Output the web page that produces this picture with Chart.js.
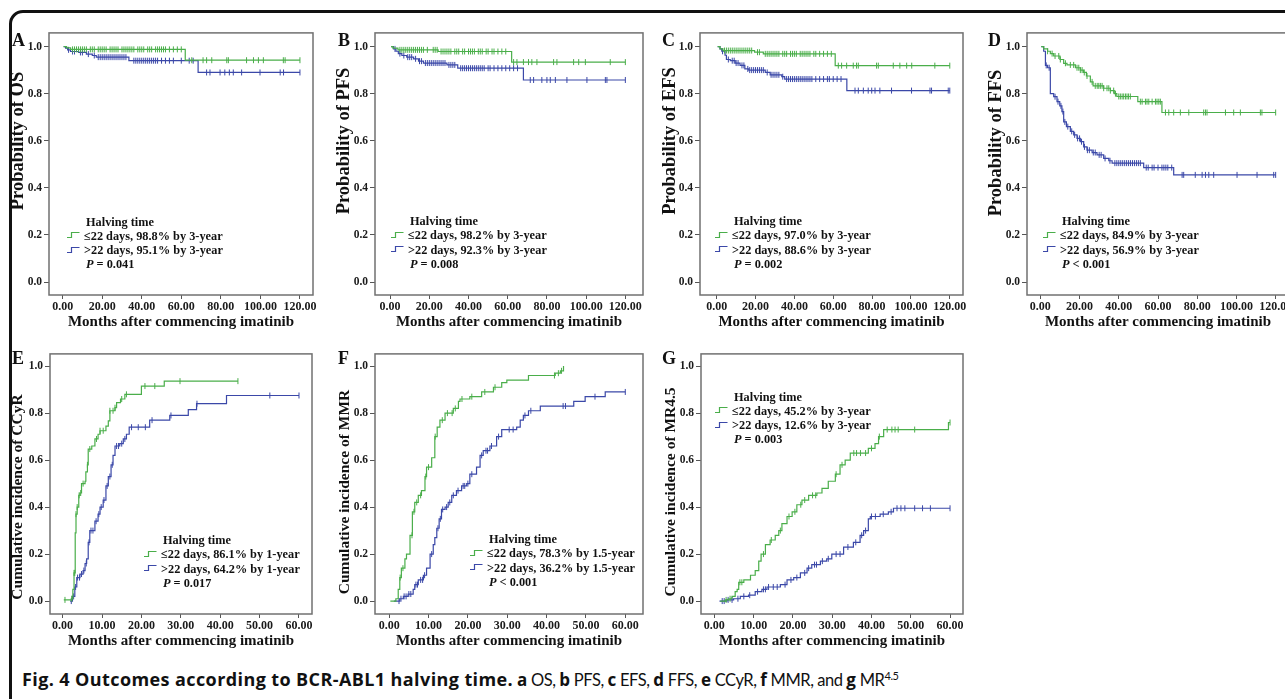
<!DOCTYPE html>
<html>
<head>
<meta charset="utf-8">
<script src="https://cdn.jsdelivr.net/npm/chart.js@4.4.1/dist/chart.umd.min.js"></script>
<style>
  html, body { margin: 0; padding: 0; background: #fff; }
  #page { position: relative; width: 1285px; height: 699px; overflow: hidden; background: #fff; }
  #frame { position: absolute; left: 9px; top: 10px; width: 1300px; height: 710px; border: 3px solid #111; border-radius: 14px; box-sizing: border-box; }
  canvas { position: absolute; }
  .leg { position: absolute; font: bold 12.3px "Liberation Serif", "Times New Roman", serif; color: #111; line-height: 14.3px; white-space: nowrap; }
  .leg .ttl { padding-left: 19px; }
  .leg svg { display: inline-block; vertical-align: middle; margin: -3px 4px 0 0; }
  .leg .p { padding-left: 19px; }
  .letter { position: absolute; font: bold 18px "Liberation Serif", "Times New Roman", serif; line-height: 18px; color: #111; }
  .ytitle { position: absolute; font-family: "Liberation Serif", "Times New Roman", serif; font-weight: bold; line-height: 1; color: #111; white-space: nowrap; transform: translate(-50%, -50%) rotate(-90deg); }
  #caption { position: absolute; left: 22px; top: 668px; font: 18px "Open Sans", sans-serif; line-height: 22px; color: #111; white-space: nowrap; }
  #caption b { font-weight: bold; }
  #caption .ttl { letter-spacing: 0.4px; }
  #caption .rest { font: 16.5px Lato, sans-serif; letter-spacing: -0.45px; }
  #caption .rest b { font-family: "Open Sans", sans-serif; font-size: 17px; letter-spacing: 0; }
  #caption sup { font-size: 11px; line-height: 0; }
</style>
</head>
<body>
<div id="page">
  <div id="frame"></div>
  <div id="caption"><b class="ttl">Fig. 4 Outcomes according to BCR-ABL1 halving time.</b><span class="rest"> <b>a</b> OS, <b>b</b> PFS, <b>c</b> EFS, <b>d</b> FFS, <b>e</b> CCyR, <b>f</b> MMR, and <b>g</b> MR<sup>4.5</sup></span></div>
</div>
<script>
const xTicksLong = [0, 20, 40, 60, 80, 100, 120];
const xTicksShort = [0, 10, 20, 30, 40, 50, 60];
const yTicks = [0, 0.2, 0.4, 0.6, 0.8, 1.0];

// a: OS
const osShortT = [0.5, 2, 4, 62, 120];
const osShortS = [1, 0.994, 0.988, 0.942, 0.942];
const osShortC = [5, 6, 7, 8, 9, 10, 11, 12, 14, 15, 16, 18, 19, 20, 21, 22, 24, 25, 26, 27, 28, 30, 31, 32, 33, 34, 35, 36, 38, 39, 40, 41, 43, 44, 45, 47, 48, 49, 50, 51, 52, 54, 56, 58, 60, 65.3, 71, 72.8, 75.4, 83, 83.8, 93, 96.5, 99, 101.5, 111.6, 112.5, 120];
const osLongT = [0.5, 1.5, 2.5, 4, 8, 12, 15, 17, 33.5, 68.5, 120];
const osLongS = [1, 0.993, 0.986, 0.979, 0.975, 0.968, 0.962, 0.955, 0.94, 0.89, 0.89];
const osLongC = [3, 5, 6, 9, 10, 13, 16, 18, 19, 20, 21, 22, 23, 24, 25, 26, 27, 28, 29, 30, 31, 32, 36, 37, 38, 39, 40, 41, 42, 43, 44, 45, 46, 47, 48, 50, 52, 54, 56, 60, 64, 66, 72.8, 74.5, 79.6, 82, 84.3, 86.3, 90.5, 99.8, 110, 111.7, 120];

// b: PFS
const pfsShortT = [0.5, 1.5, 4, 24.5, 62, 120];
const pfsShortS = [1, 0.993, 0.986, 0.979, 0.934, 0.934];
const pfsShortC = [5, 6, 7, 8, 9, 10, 11, 12, 13, 14, 15, 16, 17, 19, 22, 23, 24, 26, 27, 28, 29, 30, 31, 33, 34, 35, 37, 38, 40, 41, 42, 43, 45, 46, 47, 49, 50, 52, 53, 55, 57, 59, 63, 64.7, 68, 70.6, 72.3, 74.9, 83.4, 85.1, 93.6, 96.2, 99.6, 112.3, 120];
const pfsLongT = [0.5, 1.7, 3, 4.2, 6, 8.5, 12, 14.5, 17, 29, 34.5, 68, 120];
const pfsLongS = [1, 0.99, 0.98, 0.97, 0.962, 0.955, 0.948, 0.938, 0.93, 0.922, 0.908, 0.858, 0.858];
const pfsLongC = [2.5, 5, 7, 9, 10, 11, 13, 15, 16, 18, 19, 20, 21, 22, 23, 24, 25, 26, 27, 28, 30, 31, 32, 33, 36, 37, 38, 39, 40, 41, 42, 43, 44, 45, 46, 47, 48, 50, 51, 53, 55, 57, 59, 61, 63, 65, 71.5, 73.2, 77.4, 80, 81.7, 84.3, 90.2, 100.4, 109.8, 110.6, 120];

// c: EFS
const efsShortT = [0.5, 1.7, 3.2, 19.5, 24, 61, 120];
const efsShortS = [1, 0.99, 0.983, 0.976, 0.969, 0.919, 0.919];
const efsShortC = [4, 5, 6, 7, 8, 9, 10, 11, 12, 13, 14, 15, 16, 17, 18, 21, 22, 25, 26, 27, 28, 29, 30, 31, 32, 34, 35, 36, 38, 39, 40, 41, 43, 44, 45, 46, 47, 48, 50, 51, 53, 55, 57, 59, 62.6, 64.3, 66.9, 70.3, 72, 72.9, 82.3, 83.2, 90.9, 94.3, 97.8, 100.4, 112.3, 120];
const efsLongT = [0.5, 1.7, 2.6, 4.3, 5, 7, 9.5, 12, 14.5, 16.5, 25, 27.5, 33.5, 35, 67, 120];
const efsLongS = [1, 0.99, 0.98, 0.963, 0.945, 0.94, 0.93, 0.92, 0.905, 0.9, 0.89, 0.88, 0.872, 0.862, 0.813, 0.813];
const efsLongC = [3, 6, 8, 9, 10, 11, 13, 14, 16, 17, 18, 19, 20, 21, 22, 23, 24, 26, 28, 29, 30, 31, 32, 34, 36, 37, 38, 39, 40, 41, 42, 43, 44, 45, 46, 47, 48, 49, 51, 53, 55, 57, 58, 60, 62, 64, 71.2, 72.9, 75.5, 78, 79.8, 81.5, 84, 90, 100.3, 109.8, 110.6, 119.2, 120];

// d: FFS
const ffsShortT = [0.5, 1.7, 3.7, 5.1, 6.8, 10, 11.9, 13.6, 17.9, 20.4, 22, 23.5, 25.5, 26.9, 32.3, 35.7, 37.7, 39, 49.7, 62, 120];
const ffsShortS = [1, 0.99, 0.98, 0.97, 0.96, 0.945, 0.929, 0.922, 0.91, 0.9, 0.89, 0.875, 0.85, 0.833, 0.823, 0.813, 0.8, 0.788, 0.766, 0.72, 0.72];
const ffsShortC = [3.7, 6, 7.5, 9.4, 10.2, 12.8, 15.3, 17, 18.7, 19.6, 20.4, 21.3, 22.4, 23.8, 26.4, 28, 29, 29.8, 30.6, 31.5, 32.3, 34, 34.9, 35.7, 37.4, 38.3, 40, 40.8, 41.7, 42.5, 43.4, 44.2, 45, 45.9, 51, 51.9, 53.6, 54.4, 55.3, 57, 58.7, 59.5, 60.4, 61.2, 63.8, 65.5, 68, 71.4, 75.7, 83.3, 84.2, 85, 94.4, 98.6, 102, 112.2, 113, 120];
const ffsLongT = [0.5, 1.7, 2.6, 3.7, 5.1, 6.8, 8.5, 9.9, 11, 11.9, 13.3, 15.3, 17, 18.7, 20.4, 22.1, 23.8, 26.4, 28.9, 32.3, 34.9, 36.6, 52.7, 68, 120];
const ffsLongS = [1, 0.98, 0.92, 0.91, 0.8, 0.787, 0.766, 0.748, 0.724, 0.68, 0.66, 0.64, 0.625, 0.61, 0.596, 0.574, 0.56, 0.55, 0.54, 0.525, 0.515, 0.505, 0.486, 0.455, 0.455];
const ffsLongC = [3, 4.5, 7.5, 9, 10.5, 11.5, 12.5, 14, 16, 17.5, 19, 20, 21, 22.5, 24, 25, 27, 28, 30, 31, 33, 35.5, 38, 39, 40, 41, 42, 43, 44, 45, 46, 47, 48, 49, 50, 51, 54, 55, 57, 58, 60, 62, 63, 64, 65, 67, 72.3, 73.1, 79, 82.5, 84.2, 85.9, 88.4, 100.3, 110.5, 119, 120];

// e: CCyR
const ccyrShortT = [0.3, 2.3, 2.6, 2.9, 3.2, 3.4, 3.7, 4.1, 4.4, 4.8, 5.7, 5.9, 6.3, 6.5, 7.4, 8.2, 9, 9.5, 11, 11.6, 12, 13.3, 13.7, 14.7, 15.8, 20, 25.8, 44.5];
const ccyrShortS = [0.005, 0.01, 0.05, 0.12, 0.29, 0.37, 0.4, 0.45, 0.46, 0.5, 0.51, 0.55, 0.58, 0.647, 0.66, 0.69, 0.71, 0.725, 0.745, 0.767, 0.81, 0.823, 0.845, 0.86, 0.88, 0.915, 0.936, 0.936];
const ccyrShortC = [0.6, 2.3, 2.9, 3.1, 3.4, 3.7, 4.2, 4.6, 5.2, 6.3, 6.9, 8.6, 9.5, 10.3, 12, 12.8, 13.3, 15, 16.2, 20.9, 23.4, 29.8, 44.5];
const ccyrLongT = [1.9, 2.5, 3.1, 3.6, 4.4, 5.2, 5.7, 6.1, 6.5, 6.9, 8.2, 9, 9.5, 10.3, 11, 11.6, 12.3, 12.8, 13.3, 14.5, 15.4, 16.2, 16.9, 22.1, 27.2, 31.9, 34, 41.6, 60];
const ccyrLongS = [0, 0.02, 0.06, 0.1, 0.115, 0.13, 0.16, 0.18, 0.25, 0.3, 0.34, 0.37, 0.4, 0.43, 0.49, 0.53, 0.58, 0.62, 0.66, 0.67, 0.69, 0.71, 0.74, 0.77, 0.79, 0.815, 0.84, 0.875, 0.875];
const ccyrLongC = [2.2, 2.8, 3.3, 3.8, 4.3, 4.8, 5.4, 6, 6.7, 7.2, 7.7, 8.5, 9.2, 9.8, 10.5, 11.3, 12, 12.6, 13.7, 14.2, 15, 15.8, 17.5, 19.2, 21, 22.7, 27.5, 34.1, 52.6, 60];

// f: MMR
const mmrShortT = [0.3, 1.7, 2.3, 2.7, 3.1, 4, 4.4, 5.3, 5.9, 6.5, 7.4, 8.2, 9.1, 9.5, 10.8, 11.6, 12.2, 12.9, 14.2, 16.3, 17.6, 18, 20.5, 23.5, 26.5, 28.6, 29.9, 35.4, 42.2, 43.5, 44.3];
const mmrShortS = [0, 0.01, 0.05, 0.1, 0.14, 0.18, 0.2, 0.28, 0.38, 0.42, 0.45, 0.47, 0.53, 0.57, 0.61, 0.7, 0.74, 0.77, 0.8, 0.82, 0.85, 0.86, 0.87, 0.89, 0.91, 0.93, 0.94, 0.96, 0.97, 0.98, 1.0];
const mmrShortC = [2.8, 3.5, 5.8, 6.3, 7, 8, 9.3, 10, 11.7, 13.5, 14.8, 16, 16.8, 18.5, 21, 24.3, 26.9, 42, 43, 43.8];
const mmrLongT = [1.2, 2.7, 3.6, 4.8, 6.1, 6.5, 7.4, 8.7, 9.5, 10.4, 11.2, 11.6, 12.1, 12.7, 13.3, 14.2, 15, 15.9, 17.1, 18.4, 19.7, 20.5, 22.2, 23.1, 23.9, 25.6, 27.3, 28.6, 32.4, 33.3, 34.1, 35.4, 38.4, 46.9, 49.8, 54.9, 60];
const mmrLongS = [0, 0.01, 0.02, 0.03, 0.05, 0.07, 0.09, 0.11, 0.14, 0.2, 0.24, 0.27, 0.31, 0.35, 0.39, 0.4, 0.42, 0.45, 0.47, 0.49, 0.5, 0.54, 0.57, 0.62, 0.64, 0.66, 0.7, 0.73, 0.74, 0.77, 0.79, 0.81, 0.83, 0.85, 0.87, 0.89, 0.89];
const mmrLongC = [2.5, 3, 3.8, 4.3, 5, 5.5, 6.8, 7.2, 8, 8.5, 9, 10.8, 12.4, 13, 13.6, 14.6, 15.4, 16.3, 17.5, 18.8, 19.2, 20, 21, 23.5, 24.6, 25, 26, 27.8, 30.5, 31.5, 34.5, 36, 44.2, 44.8, 52.3, 60];

// g: MR4.5
const mr45ShortT = [1.5, 2.8, 3.6, 4.5, 5.3, 5.8, 6.2, 7.5, 9.2, 10.4, 11.3, 11.9, 13, 14.2, 15.5, 16.4, 17.2, 18.5, 19.8, 21, 22.3, 24, 26.1, 27.4, 29, 30.8, 32, 33.3, 34.6, 39.2, 40.9, 41.8, 43.1, 59.6, 60];
const mr45ShortS = [0, 0.005, 0.01, 0.02, 0.04, 0.05, 0.08, 0.09, 0.11, 0.13, 0.17, 0.2, 0.24, 0.26, 0.28, 0.3, 0.33, 0.36, 0.38, 0.41, 0.43, 0.45, 0.46, 0.48, 0.51, 0.54, 0.58, 0.6, 0.63, 0.65, 0.67, 0.7, 0.73, 0.76, 0.76];
const mr45ShortC = [3, 4, 6.5, 7, 12.5, 14.5, 16.8, 19, 20.5, 22, 23, 25, 25.8, 31, 32.5, 35.5, 36.2, 37.2, 38.5, 40, 42, 44, 45.2, 46, 46.8, 51, 60];
const mr45LongT = [1.3, 3.2, 4.9, 6.6, 8.7, 10.4, 12.1, 13.4, 16.8, 18.5, 20.2, 21.9, 23.6, 24.8, 27, 28.6, 29.9, 32.9, 35.4, 37.1, 38, 39.2, 39.7, 42.2, 44.3, 45.6, 60];
const mr45LongS = [0, 0.005, 0.01, 0.02, 0.025, 0.04, 0.05, 0.06, 0.07, 0.09, 0.1, 0.12, 0.14, 0.155, 0.17, 0.18, 0.2, 0.23, 0.25, 0.28, 0.3, 0.35, 0.36, 0.37, 0.38, 0.395, 0.395];
const mr45LongC = [2, 2.5, 3.5, 4.5, 6, 7.5, 9, 11, 12.5, 13, 13.8, 15, 16, 18, 19.5, 21, 23, 24, 25.5, 26, 27.5, 29, 31, 32, 34, 36, 37.5, 38.5, 40, 41, 43, 45, 46.5, 47.5, 48.5, 51, 53, 55, 60];

const green = '#4aae4a';
const blue = '#3b48a8';
const serif = '"Liberation Serif", "Times New Roman", serif';

const panels = [
  { letter: 'A', yTitle: 'Probability of OS', box: [49, 32, 313, 295], x: [-6.9, 126.6], y: [-0.055, 1.058], xt: xTicksLong,
    yt: [17, 141, 18.5], short: [osShortT, osShortS, osShortC], long: [osLongT, osLongS, osLongC],
    leg: [67, 214.5], lines: ['≤22 days, 98.8% by 3-year', '>22 days, 95.1% by 3-year'], p: '= 0.041', lt: [12, 31] },
  { letter: 'B', yTitle: 'Probability of PFS', box: [375, 32, 643, 295], x: [-7.7, 129.0], y: [-0.055, 1.058], xt: xTicksLong,
    yt: [343, 141, 18.5], short: [pfsShortT, pfsShortS, pfsShortC], long: [pfsLongT, pfsLongS, pfsLongC],
    leg: [391, 214], lines: ['≤22 days, 98.2% by 3-year', '>22 days, 92.3% by 3-year'], p: '= 0.008', lt: [338, 31] },
  { letter: 'C', yTitle: 'Probability of EFS', box: [700, 32, 963, 295], x: [-8.6, 126.8], y: [-0.055, 1.058], xt: xTicksLong,
    yt: [669, 141, 18.5], short: [efsShortT, efsShortS, efsShortC], long: [efsLongT, efsLongS, efsLongC],
    leg: [715, 214], lines: ['≤22 days, 97.0% by 3-year', '>22 days, 88.6% by 3-year'], p: '= 0.002', lt: [662, 31] },
  { letter: 'D', yTitle: 'Probability of FFS', box: [1027, 32, 1289, 295], x: [-6.8, 126.8], y: [-0.055, 1.058], xt: xTicksLong,
    yt: [995, 143, 18.5], short: [ffsShortT, ffsShortS, ffsShortC], long: [ffsLongT, ffsLongS, ffsLongC],
    leg: [1043, 214], lines: ['≤22 days, 84.9% by 3-year', '>22 days, 56.9% by 3-year'], p: '< 0.001', lt: [988, 31] },
  { letter: 'E', yTitle: 'Cumulative incidence of CCyR', box: [50, 353, 312, 614], x: [-3.2, 63.3], y: [-0.055, 1.052], xt: xTicksShort,
    yt: [17, 497, 15.5], short: [ccyrShortT, ccyrShortS, ccyrShortC], long: [ccyrLongT, ccyrLongS, ccyrLongC],
    leg: [144, 533], lines: ['≤22 days, 86.1% by 1-year', '>22 days, 64.2% by 1-year'], p: '= 0.017', lt: [12, 349] },
  { letter: 'F', yTitle: 'Cumulative incidence of MMR', box: [375, 353, 643, 614], x: [-3.6, 64.5], y: [-0.055, 1.052], xt: xTicksShort,
    yt: [344, 492, 15.5], short: [mmrShortT, mmrShortS, mmrShortC], long: [mmrLongT, mmrLongS, mmrLongC],
    leg: [470, 532], lines: ['≤22 days, 78.3% by 1.5-year', '>22 days, 36.2% by 1.5-year'], p: '< 0.001', lt: [338, 349] },
  { letter: 'G', yTitle: 'Cumulative incidence of MR4.5', box: [701, 353, 963, 614], x: [-3.4, 63.3], y: [-0.055, 1.052], xt: xTicksShort,
    yt: [670, 492, 15.5], short: [mr45ShortT, mr45ShortS, mr45ShortC], long: [mr45LongT, mr45LongS, mr45LongC],
    leg: [715, 389.5], lines: ['≤22 days, 45.2% by 3-year', '>22 days, 12.6% by 3-year'], p: '= 0.003', lt: [662, 349] },
];

const valueAt = (times, vals, t) => {
  let v = vals[0];
  times.forEach((tt, i) => { if (tt <= t) v = vals[i]; });
  return v;
};

const boxPlugin = {
  id: 'plotBox',
  afterDatasetsDraw(chart) {
    const { ctx, chartArea: a } = chart;
    ctx.save();
    ctx.strokeStyle = '#707070';
    ctx.lineWidth = 1.5;
    ctx.strokeRect(a.left, a.top, a.right - a.left, a.bottom - a.top);
    ctx.restore();
  },
};

const curveSets = (group, color) => {
  const [T, S, C] = group;
  return [
    {
      data: T.map((t, i) => ({ x: t, y: S[i] })),
      stepped: true,
      borderColor: color,
      borderWidth: 1.2,
      pointRadius: 0,
      fill: false,
    },
    {
      data: C.map((t) => ({ x: t, y: valueAt(T, S, t) })),
      showLine: false,
      pointStyle: 'line',
      rotation: 90,
      pointRadius: 3,
      borderColor: color,
      borderWidth: 1,
    },
  ];
};

const stepGlyph = (color) =>
  `<svg width="13" height="8"><path d="M0 6.5H4.5V1.5H12.5" fill="none" stroke="${color}" stroke-width="1.2"/></svg>`;

const page = document.getElementById('page');

panels.forEach((p) => {
  const [l, t, r, b] = p.box;
  const padTop = 8, padRight = 14, yW = 49, xH = 40;
  const canvas = document.createElement('canvas');
  const cw = r - l + yW + padRight;
  const ch = b - t + padTop + xH;
  canvas.width = cw;
  canvas.height = ch;
  canvas.style.left = l - yW + 'px';
  canvas.style.top = t - padTop + 'px';
  canvas.style.width = cw + 'px';
  canvas.style.height = ch + 'px';
  page.appendChild(canvas);

  new Chart(canvas.getContext('2d'), {
    type: 'line',
    data: { datasets: [...curveSets(p.short, green), ...curveSets(p.long, blue)] },
    options: {
      responsive: false,
      animation: false,
      devicePixelRatio: 1,
      layout: { padding: { top: padTop, right: padRight, left: 0, bottom: 0 } },
      plugins: { legend: { display: false }, tooltip: { enabled: false } },
      scales: {
        x: {
          type: 'linear',
          min: p.x[0],
          max: p.x[1],
          afterBuildTicks: (s) => { s.ticks = p.xt.map((v) => ({ value: v })); },
          afterFit: (s) => { s.height = xH; },
          ticks: { callback: (v) => v.toFixed(2), font: { family: serif, size: 12, weight: 'bold' }, color: '#1a1a1a', padding: 1, autoSkip: false, maxRotation: 0 },
          grid: { drawOnChartArea: false, tickLength: 4, color: '#555' },
          border: { display: false },
          title: {
            display: true,
            text: 'Months after commencing imatinib',
            color: '#111',
            font: { family: serif, size: 15, weight: 'bold', lineHeight: 1 },
            padding: { top: 0, bottom: 5.5 },
          },
        },
        y: {
          type: 'linear',
          min: p.y[0],
          max: p.y[1],
          afterBuildTicks: (s) => { s.ticks = yTicks.map((v) => ({ value: v })); },
          afterFit: (s) => { s.width = yW; },
          ticks: { callback: (v) => v.toFixed(1), font: { family: serif, size: 11.5, weight: 'bold' }, color: '#1a1a1a', padding: 2 },
          grid: { drawOnChartArea: false, tickLength: 5, color: '#555' },
          border: { display: false },
        },
      },
    },
    plugins: [boxPlugin],
  });

  const yTitle = document.createElement('div');
  yTitle.className = 'ytitle';
  yTitle.textContent = p.yTitle;
  yTitle.style.left = p.yt[0] + 'px';
  yTitle.style.top = p.yt[1] + 'px';
  yTitle.style.fontSize = p.yt[2] + 'px';
  page.appendChild(yTitle);

  const letter = document.createElement('div');
  letter.className = 'letter';
  letter.textContent = p.letter;
  letter.style.left = p.lt[0] + 'px';
  letter.style.top = p.lt[1] + 'px';
  page.appendChild(letter);

  const leg = document.createElement('div');
  leg.className = 'leg';
  leg.style.left = p.leg[0] + 'px';
  leg.style.top = p.leg[1] + 'px';
  leg.innerHTML =
    '<div class="ttl">Halving time</div>' +
    `<div>${stepGlyph(green)}${p.lines[0].replace('>', '&gt;')}</div>` +
    `<div>${stepGlyph(blue)}${p.lines[1].replace('>', '&gt;')}</div>` +
    `<div class="p"><i>P</i> ${p.p.replace('<', '&lt;')}</div>`;
  page.appendChild(leg);
});
</script>
</body>
</html>
